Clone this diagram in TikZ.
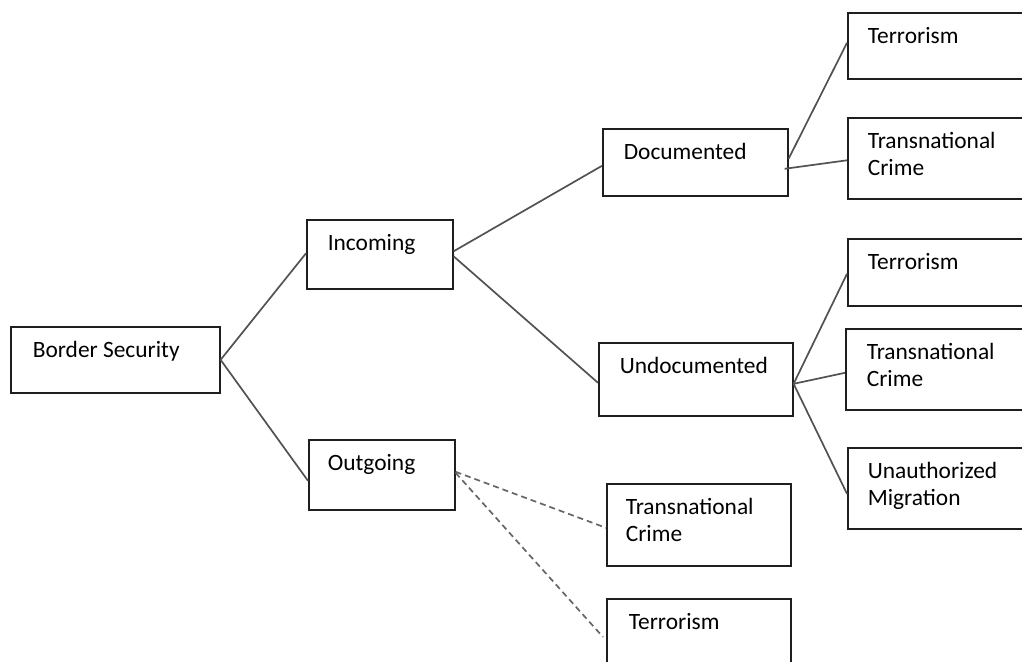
\documentclass[tikz,border=0pt]{standalone}
\usepackage{fontspec}
\setmainfont{Carlito}
\newcommand{\boxtxt}[3]{\vbox to #1{\hsize=#2\relax\parindent=0pt\parskip=0pt\baselineskip=27pt\lineskip=0pt\vskip 12.1pt\strut #3\par\vfil}}
\begin{document}
\begin{tikzpicture}[x=1pt,y=-1pt,
  box/.style={draw=black!88, line width=1.6pt, anchor=north west, inner ysep=0pt, font=\fontsize{23.4}{27}\selectfont},
  link/.style={draw=black!68, line width=1.7pt},
  dlink/.style={draw=black!60, line width=1.7pt, dash pattern=on 6pt off 4pt}]
\useasboundingbox (0,0) rectangle (1022,661);
% level 0
\node[box, inner xsep=22pt] (bs) at (10,326) {\boxtxt{66pt}{165pt}{Border Security}};
% level 1
\node[box, inner xsep=21pt] (inc) at (306,219) {\boxtxt{69pt}{104pt}{Incoming}};
\node[box, inner xsep=19pt] (out) at (308,439) {\boxtxt{70pt}{108pt}{Outgoing}};
% level 2
\node[box, inner xsep=21pt] (doc) at (602,128) {\boxtxt{67pt}{143pt}{Documented}};
\node[box, inner xsep=21pt] (und) at (598,342) {\boxtxt{73pt}{152pt}{Undocumented}};
\node[box, inner xsep=19pt] (tco) at (606,483) {\boxtxt{82pt}{146pt}{Transnational\\Crime}};
\node[box, inner xsep=22pt] (tro) at (606,598) {\boxtxt{80pt}{140pt}{Terrorism}};
% level 3
\node[box, inner xsep=20pt] (t1) at (847,12) {\boxtxt{66pt}{160pt}{Terrorism}};
\node[box, inner xsep=20pt] (t2) at (847,117) {\boxtxt{81pt}{160pt}{Transnational\\Crime}};
\node[box, inner xsep=20pt] (t3) at (847,238) {\boxtxt{67pt}{160pt}{Terrorism}};
\node[box, inner xsep=21pt] (t4) at (845,328) {\boxtxt{81pt}{160pt}{Transnational\\Crime}};
\node[box, inner xsep=20pt] (um) at (847,447) {\boxtxt{81pt}{160pt}{Unauthorized\\Migration}};
% connectors
\draw[link] (bs.east) -- ([yshift=1pt]inc.west);
\draw[link] (bs.east) -- ([yshift=-6pt]out.west);
\draw[link] ([yshift=3pt]inc.east) -- ([yshift=-3.5pt]doc.west);
\draw[link] ([yshift=-2pt]inc.east) -- ([yshift=-3.5pt]und.west);
\draw[link] ([yshift=3.5pt]doc.east) -- ([yshift=3pt]t1.west);
\draw[link] ([xshift=-4pt,yshift=-6.5pt]doc.east) -- ([yshift=-2pt]t2.west);
\draw[link] ([yshift=-4.5pt]und.east) -- ([yshift=-1.5pt]t3.west);
\draw[link] ([yshift=-4.5pt]und.east) -- ([yshift=-3.5pt]t4.west);
\draw[link] ([yshift=-4.5pt]und.east) -- ([yshift=-5.5pt]um.west);
\draw[dlink] ([yshift=3pt]out.east) -- ([yshift=-3pt]tco.west);
\draw[dlink] ([yshift=2pt]out.east) -- ([xshift=-3pt,yshift=-39pt]tro.north west);
\end{tikzpicture}
\end{document}
